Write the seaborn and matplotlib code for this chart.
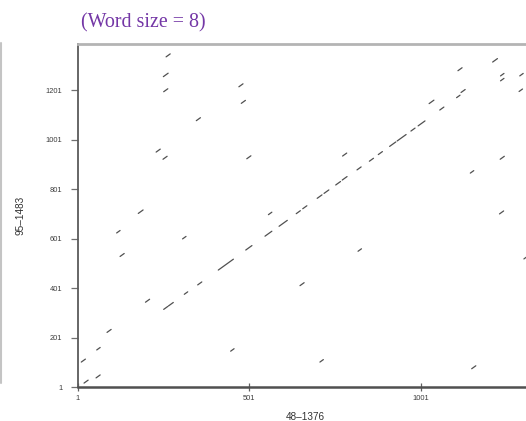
import matplotlib
matplotlib.use("Agg")
import matplotlib.pyplot as plt
import pandas as pd
import seaborn as sns
from matplotlib.lines import Line2D

# Dot-plot of two sequences compared with an 8-letter word size
title = "(Word size = 8)"
x_label = "48–1376"
y_label = "95–1483"
x_len = 1329
y_len = 1389
x_ticks = [1, 501, 1001]
y_ticks = [1, 201, 401, 601, 801, 1001, 1201]

# Matching diagonal runs: start position in each sequence and run length
seg_x = [259, 251, 252, 347, 230, 250, 471, 478, 494, 773,
         1210, 1109, 1233, 1233, 1289, 1287, 1118, 1105, 1025, 1232,
         1145, 1230, 1301, 818, 557, 178, 115, 125, 307, 649,
         447, 707, 1149, 12, 20, 57, 55, 87, 199,
         252, 266, 312, 351, 411, 491, 547, 588, 638, 657,
         699, 719, 753, 772, 815, 851, 877, 910, 932, 972,
         993, 1056]
seg_y = [1337, 1257, 1196, 1079, 952, 923, 1216, 1149, 925, 936,
         1316, 1281, 1260, 1240, 1260, 1197, 1193, 1172, 1148, 923,
         867, 702, 520, 551, 699, 704, 625, 530, 601, 412,
         147, 103, 76, 103, 18, 152, 39, 223, 345,
         316, 330, 377, 415, 475, 556, 612, 652, 703, 723,
         765, 785, 819, 839, 880, 915, 942, 975, 997, 1037,
         1058, 1122]
seg_len = [12, 14, 12, 12, 12, 12, 12, 12, 12, 12,
           14, 12, 10, 10, 10, 10, 12, 10, 14, 12,
           10, 12, 10, 10, 10, 14, 10, 12, 10, 12,
           10, 10, 12, 12, 12, 10, 12, 12, 12,
           12, 14, 10, 12, 44, 18, 20, 24, 12, 12,
           14, 14, 14, 14, 12, 12, 12, 18, 26, 12,
           20, 12]

rows = []
for i, (x0, y0, n) in enumerate(zip(seg_x, seg_y, seg_len)):
    rows.append((i, x0, y0))
    rows.append((i, x0 + n, y0 + n))
df = pd.DataFrame(rows, columns=["seg", "x", "y"])

sns.set_theme(style="ticks")
plt.rcParams["font.family"] = ["Liberation Sans", "DejaVu Sans"]

W, H = 526, 421
fig = plt.figure(figsize=(W / 100, H / 100), dpi=100)
left_px, right_px, top_px, bottom_px = 77.5, 533.5, 44.0, 387.3
ax = fig.add_axes([left_px / W, (H - bottom_px) / H,
                   (right_px - left_px) / W, (bottom_px - top_px) / H])

sns.lineplot(data=df, x="x", y="y", units="seg", estimator=None,
             color="#505050", linewidth=0.9, ax=ax, legend=False)

ax.set_xlim(1, x_len)
ax.set_ylim(1, y_len)
ax.set_xticks(x_ticks)
ax.set_xticklabels([str(t) for t in x_ticks])
ax.set_yticks(y_ticks)
ax.set_yticklabels([str(t) for t in y_ticks])

ax.spines["top"].set_color("#b4b4b4")
ax.spines["top"].set_linewidth(2.0)
ax.spines["left"].set_color("#5a5a5a")
ax.spines["left"].set_linewidth(1.3)
ax.spines["bottom"].set_color("#505050")
ax.spines["bottom"].set_linewidth(1.8)
ax.spines["right"].set_color("#b4b4b4")

ax.tick_params(axis="y", direction="out", length=5, width=0.9, color="#707070",
               pad=6, labelsize=5.4, labelcolor="#3c3c3c", left=True)
ax.tick_params(axis="x", direction="inout", length=6, width=0.9, color="#606060",
               pad=2.5, labelsize=5.4, labelcolor="#3c3c3c", bottom=True)

ax.set_xlabel(x_label, fontsize=7.2, color="#333333")
ax.xaxis.set_label_coords(0.5, -0.072)
ax.set_ylabel(y_label, fontsize=7.2, color="#333333")
ax.yaxis.set_label_coords(-0.113, 0.5)

fig.text(81 / W, (H - 23) / H, title, fontsize=14.4, color="#7437a6",
         family=["Liberation Serif", "DejaVu Serif"], ha="left", va="center")

fig.add_artist(Line2D([1 / W, 1 / W], [(H - 383) / H, (H - 43) / H],
                      color="#c4c4c4", linewidth=1.5, transform=fig.transFigure))

fig.savefig("out.png", dpi=100)
